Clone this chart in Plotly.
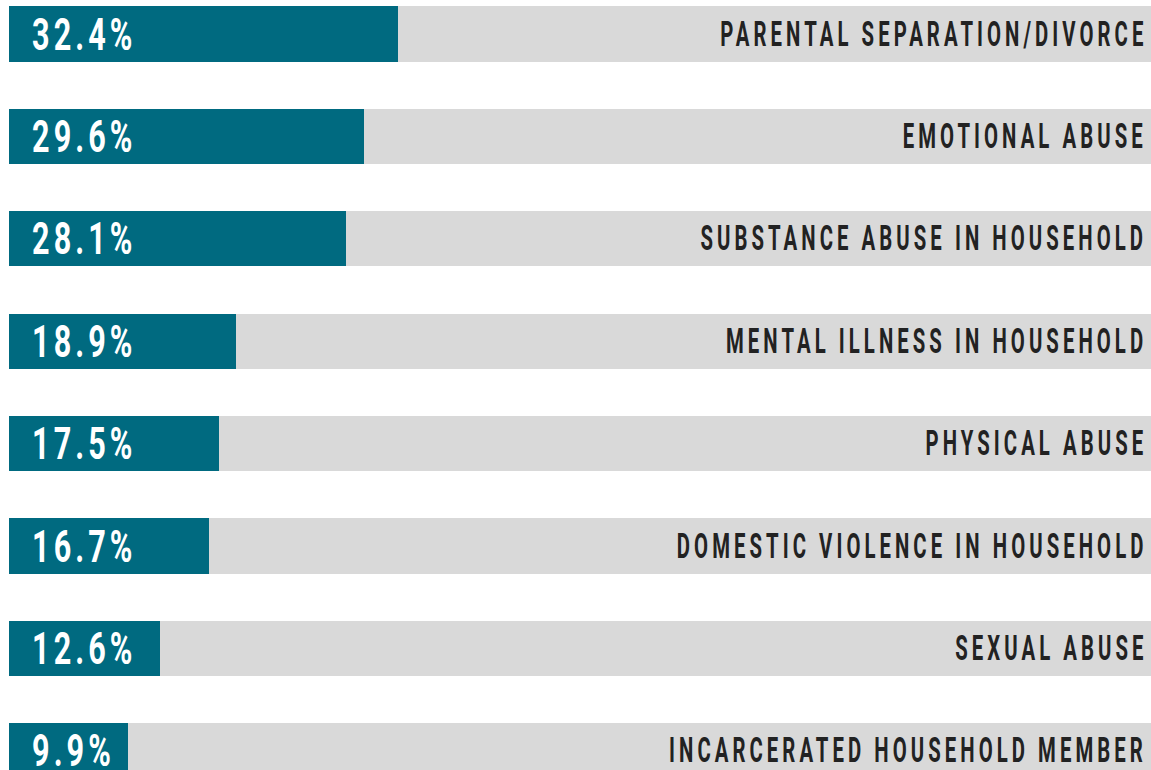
import plotly.graph_objects as go

categories = [
    "PARENTAL SEPARATION/DIVORCE",
    "EMOTIONAL ABUSE",
    "SUBSTANCE ABUSE IN HOUSEHOLD",
    "MENTAL ILLNESS IN HOUSEHOLD",
    "PHYSICAL ABUSE",
    "DOMESTIC VIOLENCE IN HOUSEHOLD",
    "SEXUAL ABUSE",
    "INCARCERATED HOUSEHOLD MEMBER",
]
values = [32.4, 29.6, 28.1, 18.9, 17.5, 16.7, 12.6, 9.9]
track_max = 95.17

TEAL = "#006A80"
GRAY = "#D9D9D9"
FONT = "Roboto, Liberation Sans, sans-serif"

pos = list(range(len(categories)))

fig = go.Figure()
fig.add_trace(go.Bar(
    x=[track_max] * len(categories), y=pos, orientation="h",
    marker=dict(color=GRAY, line=dict(width=0)), width=0.54,
    hoverinfo="skip", showlegend=False,
))
fig.add_trace(go.Bar(
    x=values, y=pos, orientation="h",
    marker=dict(color=TEAL, line=dict(width=0)), width=0.54,
    customdata=categories,
    hovertemplate="%{customdata}: %{x}%<extra></extra>", showlegend=False,
))

for i, (cat, v) in enumerate(zip(categories, values)):
    fig.add_annotation(
        x=0, y=i, xref="x", yref="y", text=f"{v}%", showarrow=False,
        xanchor="left", yanchor="middle", xshift=21, align="left",
        font=dict(family=FONT, size=45, color="white", weight="bold"),
    )
    fig.add_annotation(
        x=1, y=i, xref="paper", yref="y", text=cat, showarrow=False,
        xanchor="right", yanchor="middle", xshift=-2, align="right",
        font=dict(family=FONT, size=35, color="#222222", weight="bold"),
    )

fig.update_layout(
    width=1151, height=770,
    margin=dict(l=9, r=0, t=0, b=0),
    paper_bgcolor="white", plot_bgcolor="white",
    barmode="overlay", bargap=0,
    xaxis=dict(range=[0, track_max], visible=False, fixedrange=True),
    yaxis=dict(range=[7.1875, -0.332], visible=False, fixedrange=True),
)

post = """
document.body.style.margin='0';
document.body.style.overflow='hidden';
var s=document.createElement('style');
s.textContent='text.annotation-text{transform-box:fill-box;}'+
 'text.annotation-text[text-anchor="end"]{transform-origin:right center;transform:scaleX(0.58);letter-spacing:7px;}'+
 'text.annotation-text[text-anchor="start"]{transform-origin:left center;transform:scaleX(0.68);letter-spacing:6px;}';
document.head.appendChild(s);
"""
fig.write_html("out.html", post_script=post, config={"displayModeBar": False})
